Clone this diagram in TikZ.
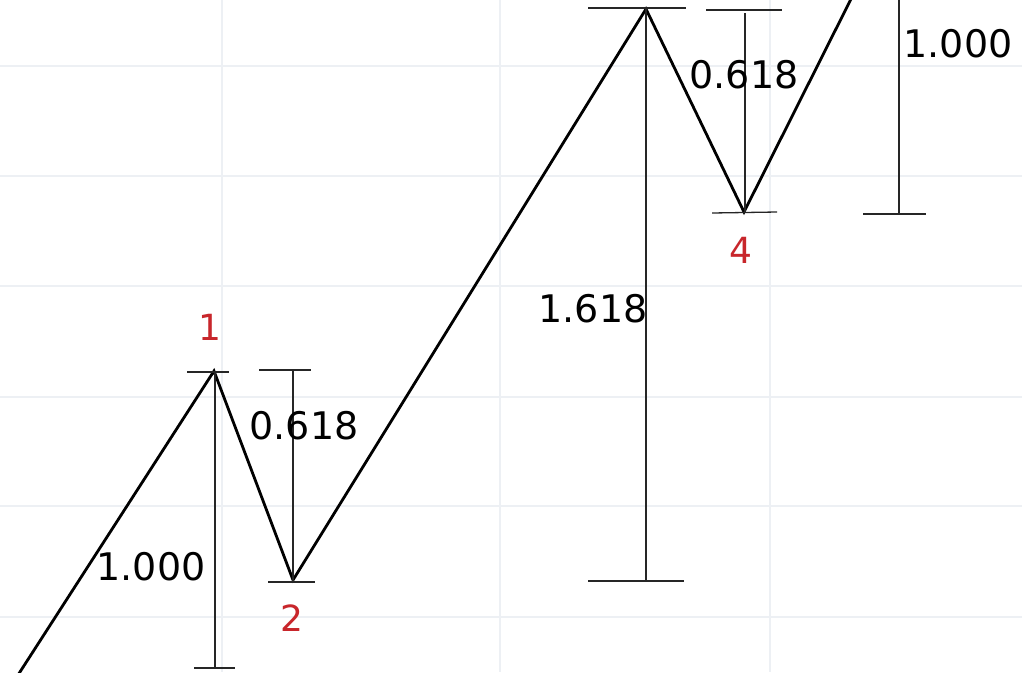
\documentclass[tikz,border=0pt]{standalone}
\usepackage{fontspec}
\setmainfont{DejaVu Sans}
\definecolor{gridc}{HTML}{EDF0F4}
\definecolor{lblred}{HTML}{C8262B}
\begin{document}
\begin{tikzpicture}[x=1pt,y=-1pt,
  wave/.style={line width=2.8pt,black,line join=miter},
  bar/.style={line width=1.3pt,black!85},
  val/.style={font=\fontsize{38}{40}\selectfont,inner sep=0pt,text=black},
  pt/.style={font=\fontsize{36}{40}\selectfont,inner sep=0pt,text=lblred}]
\useasboundingbox (0,0) rectangle (1022,672);
\fill[white] (0,0) rectangle (1022,672);
% grid
\foreach \y in {66,176,286,397,506,617} \draw[gridc,line width=1.2pt] (0,\y) -- (1022,\y);
\foreach \x in {222,500,770} \draw[gridc,line width=1.2pt] (\x,0) -- (\x,672);
% wave points
\coordinate (s) at (18,675);
\coordinate (p1) at (214,371);
\coordinate (p2) at (293,580);
\coordinate (p3) at (646,9);
\coordinate (p4) at (744,212);
\coordinate (e) at (852,-3);
\draw[wave] (s) -- (p1) -- (p2) -- (p3) -- (p4) -- (e);
% bar 1.000 left
\coordinate (a1) at (215,372); \coordinate (a2) at (215,668);
\draw[bar] (a1) -- (a2);
\draw[bar] (187,372) -- (229,372);
\draw[bar] (194,668) -- (235,668);
% bar 0.618 first
\coordinate (b1) at (293,370); \coordinate (b2) at (293,582);
\draw[bar] (b1) -- (b2);
\draw[bar] (259,370) -- (311,370);
\draw[bar] (268,582) -- (315,582);
% bar 1.618
\coordinate (c1) at (646,9); \coordinate (c2) at (646,581);
\draw[bar] (c1) -- (c2);
\draw[bar] (588,8) -- (686,8);
\draw[bar] (588,581) -- (684,581);
% bar 0.618 second
\coordinate (d1) at (745,13); \coordinate (d2) at (745,212);
\draw[bar] (d1) -- (d2);
\draw[bar] (706,10) -- (782,10);
\draw[bar] (712,213) -- (777,212);
% bar 1.000 right
\coordinate (f1) at (899,-2); \coordinate (f2) at (899,214);
\draw[bar] (f1) -- (f2);
\draw[bar] (863,214) -- (926,214);
% value labels
\node[val] (v1) at (151,567) {1.000};
\node[val] (v2) at (304,426) {0.618};
\node[val] (v3) at (593,309) {1.618};
\node[val] (v4) at (744,75) {0.618};
\node[val] (v5) at (958,44) {1.000};
% point labels
\node[pt] (l1) at (210,327) {1};
\node[pt] (l2) at (292,618) {2};
\node[pt] (l4) at (741,250) {4};
\end{tikzpicture}
\end{document}
